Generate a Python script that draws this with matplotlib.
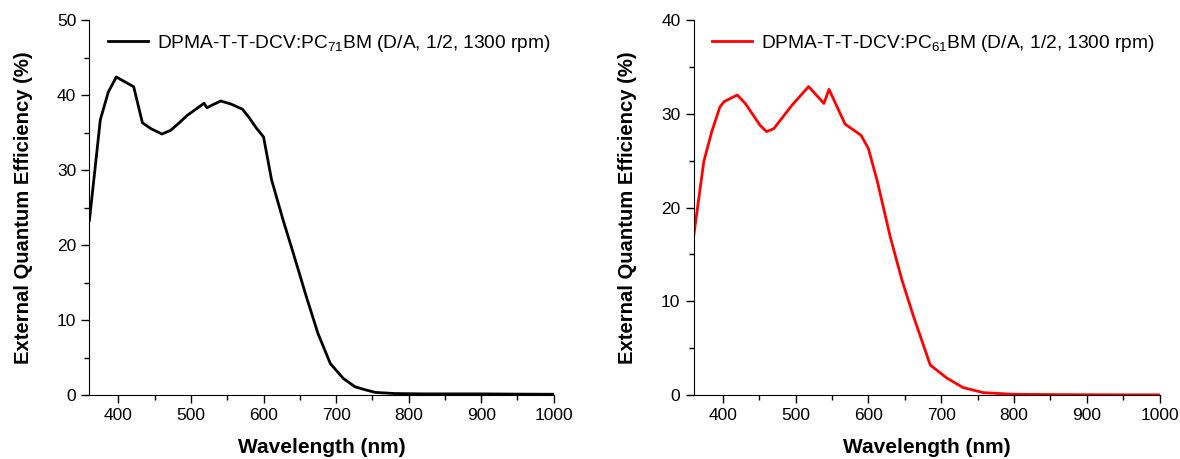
import numpy as np
import matplotlib.pyplot as plt
from matplotlib.ticker import MultipleLocator

plt.rcParams['font.family'] = ['Liberation Sans', 'DejaVu Sans']
plt.rcParams['mathtext.fontset'] = 'custom'
plt.rcParams['mathtext.rm'] = 'Liberation Sans'
plt.rcParams['mathtext.it'] = 'Liberation Sans'

# EQE of PC71BM device (black)
wl_71 = [360, 375, 386, 397, 410, 421, 433, 445, 460, 472, 485, 495, 508, 518, 522,
         530, 541, 555, 571, 580, 590, 600, 611, 627, 641, 659, 675, 692, 710, 726,
         740, 754, 780, 820, 860, 900, 950, 1000]
eqe_71 = [23.3, 36.7, 40.4, 42.4, 41.7, 41.1, 36.3, 35.5, 34.8, 35.3, 36.4, 37.3, 38.2, 38.9, 38.3,
          38.7, 39.2, 38.8, 38.1, 37.0, 35.6, 34.4, 28.7, 23.3, 18.9, 13.1, 8.2, 4.2, 2.2, 1.1,
          0.7, 0.35, 0.2, 0.15, 0.15, 0.15, 0.12, 0.1]

# EQE of PC61BM device (red)
wl_61 = [360, 374, 385, 396, 402, 420, 431, 451, 460, 470, 495, 518, 539, 546, 568,
         590, 600, 612, 630, 646, 662, 685, 708, 730, 758, 800, 850, 900, 950, 1000]
eqe_61 = [16.9, 24.9, 28.1, 30.7, 31.3, 32.0, 31.1, 28.8, 28.1, 28.4, 30.9, 32.9, 31.1, 32.6, 28.9,
          27.7, 26.3, 22.9, 16.9, 12.3, 8.4, 3.2, 1.8, 0.8, 0.25, 0.08, 0.05, 0.03, 0.02, 0.02]

fig = plt.figure(figsize=(11.8, 4.59), dpi=100)
ax1 = fig.add_axes([0.0758, 0.1394, 0.3935, 0.817])
ax2 = fig.add_axes([0.5878, 0.1394, 0.3949, 0.817])

panels = [
    (ax1, wl_71, eqe_71, 'black', r'DPMA-T-T-DCV:PC$_{71}$BM (D/A, 1/2, 1300 rpm)', 50),
    (ax2, wl_61, eqe_61, 'red', r'DPMA-T-T-DCV:PC$_{61}$BM (D/A, 1/2, 1300 rpm)', 40),
]

for ax, x, y, c, lab, ymax in panels:
    ax.plot(x, y, color=c, lw=2, label=lab)
    ax.set_xlim(360, 1000)
    ax.set_ylim(0, ymax)
    ax.xaxis.set_major_locator(MultipleLocator(100))
    ax.xaxis.set_minor_locator(MultipleLocator(50))
    ax.yaxis.set_major_locator(MultipleLocator(10))
    ax.yaxis.set_minor_locator(MultipleLocator(5))
    ax.spines['top'].set_visible(False)
    ax.spines['right'].set_visible(False)
    ax.tick_params(which='both', direction='out', labelsize=12.5, width=1)
    ax.tick_params(which='major', length=6)
    ax.tick_params(which='minor', length=3.5)
    ax.set_xlabel('Wavelength (nm)', fontsize=15, fontweight='bold', labelpad=11)
    ax.set_ylabel('External Quantum Efficiency (%)', fontsize=14.6, fontweight='bold', labelpad=17)
    ax.legend(loc='upper left', frameon=False, fontsize=13.8, handlelength=2.1,
              handletextpad=0.45, borderpad=0, borderaxespad=0,
              bbox_to_anchor=(0.04, 0.966))

fig.savefig('out.png', dpi=100)
